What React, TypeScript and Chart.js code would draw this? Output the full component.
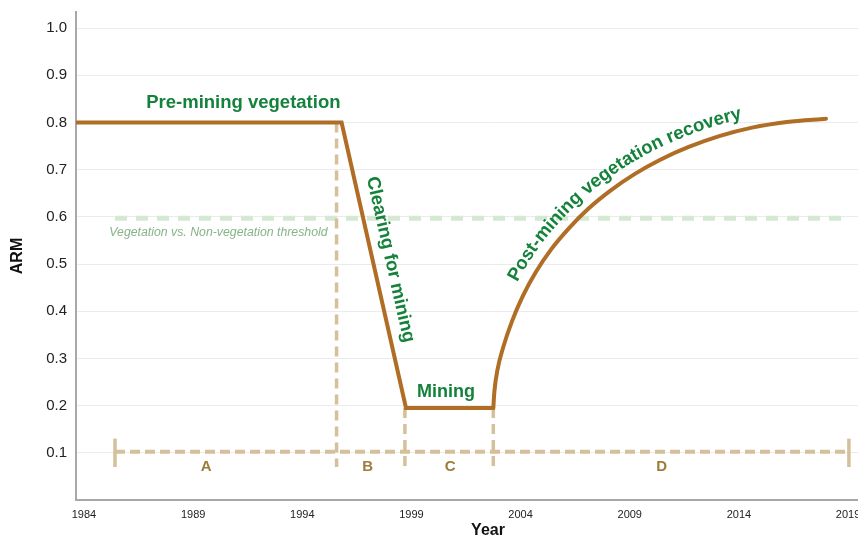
import { useEffect, useRef } from 'react';
import { Chart, registerables } from 'chart.js';

Chart.register(...registerables);

const FONT = '"Liberation Sans", Arial, Helvetica, sans-serif';

// ---- ticks ----
const yTickValues = [0.1, 0.2, 0.3, 0.4, 0.5, 0.6, 0.7, 0.8, 0.9, 1.0];
const xTickYears = [1984, 1989, 1994, 1999, 2004, 2009, 2014, 2019];

// ---- ARM trajectory: pre-mining, clearing, mining ----
const phaseYears = [1983.63, 1995.8, 1998.75, 2002.75];
const phaseArm = [0.8, 0.8, 0.195, 0.195];

// ---- post-mining recovery curve ----
const recoveryYears = [2002.75, 2002.8, 2002.95, 2003.2, 2003.6, 2004.1, 2004.7, 2005.4, 2006.2, 2007.1, 2008.1, 2009.2, 2010.4, 2011.7, 2013.1, 2014.6, 2016.2, 2017.99];
const recoveryArm = [0.195, 0.23, 0.278, 0.323, 0.378, 0.432, 0.483, 0.531, 0.575, 0.617, 0.655, 0.69, 0.721, 0.748, 0.771, 0.789, 0.801, 0.808];

// ---- threshold ----
const thresholdYears = [1985.42, 2018.85];
const thresholdArm = [0.597, 0.597];

// ---- period bar A-D ----
const periodBarYears = [1985.42, 2019.04];
const periodBarArm = [0.102, 0.102];
const periodEndTickArm = [0.07, 0.13];
const boundaryYears = [1995.57, 1998.7, 2002.75];
const boundaryTopArm = [0.8, 0.195, 0.195];
const boundaryBottomArm = 0.07;
const periodLabels = ['A', 'B', 'C', 'D'];
const periodLabelYears = [1989.6, 1997.0, 2000.77, 2010.46];
const periodLabelArm = 0.071;

const LINE = '#b06d25';
const TAN = '#d4c09a';
const GREEN = '#14823b';
const LETTER = '#9d7b3a';

function xy(xs: number[], ys: number[]) {
  return xs.map((x, i) => ({ x, y: ys[i] }));
}

function drawTextOnCurve(ctx: CanvasRenderingContext2D, meta: any, text: string, startX: number, offset: number) {
  const pts = meta.data as any[];
  const samples: number[][] = [];
  for (let i = 0; i < pts.length - 1; i++) {
    const a = pts[i], b = pts[i + 1];
    const c1x = a.cp2x ?? a.x, c1y = a.cp2y ?? a.y;
    const c2x = b.cp1x ?? b.x, c2y = b.cp1y ?? b.y;
    for (let k = 0; k < 24; k++) {
      const t = k / 24, u = 1 - t;
      samples.push([
        u * u * u * a.x + 3 * u * u * t * c1x + 3 * u * t * t * c2x + t * t * t * b.x,
        u * u * u * a.y + 3 * u * u * t * c1y + 3 * u * t * t * c2y + t * t * t * b.y,
      ]);
    }
  }
  const last = pts[pts.length - 1];
  samples.push([last.x, last.y]);
  const off = samples.map((p, i) => {
    const p0 = samples[Math.max(0, i - 2)], p1 = samples[Math.min(samples.length - 1, i + 2)];
    let tx = p1[0] - p0[0], ty = p1[1] - p0[1];
    const l = Math.hypot(tx, ty) || 1;
    tx /= l; ty /= l;
    return [p[0] + ty * offset, p[1] - tx * offset];
  });
  let startIdx = off.findIndex((p) => p[0] >= startX);
  if (startIdx < 0) startIdx = 0;
  const path = off.slice(startIdx);
  const cum = [0];
  for (let i = 1; i < path.length; i++) {
    cum.push(cum[i - 1] + Math.hypot(path[i][0] - path[i - 1][0], path[i][1] - path[i - 1][1]));
  }
  const at = (s: number) => {
    let i = 1;
    while (i < path.length - 1 && cum[i] < s) i++;
    const seg = cum[i] - cum[i - 1] || 1;
    const f = (s - cum[i - 1]) / seg;
    const x = path[i - 1][0] + f * (path[i][0] - path[i - 1][0]);
    const y = path[i - 1][1] + f * (path[i][1] - path[i - 1][1]);
    const j0 = Math.max(0, i - 3), j1 = Math.min(path.length - 1, i + 2);
    const ang = Math.atan2(path[j1][1] - path[j0][1], path[j1][0] - path[j0][0]);
    return { x, y, ang };
  };
  let s = 0;
  for (const ch of text) {
    const w = ctx.measureText(ch).width;
    const p = at(s + w / 2);
    ctx.save();
    ctx.translate(p.x, p.y);
    ctx.rotate(p.ang);
    ctx.fillText(ch, 0, 0);
    ctx.restore();
    s += w;
  }
}

const annotationPlugin = {
  id: 'armAnnotations',
  afterDatasetsDraw(chart: any) {
    const { ctx, scales } = chart;
    const x = scales.x, y = scales.y;
    ctx.save();

    // period letters
    ctx.fillStyle = LETTER;
    ctx.font = `bold 15px ${FONT}`;
    ctx.textAlign = 'center';
    ctx.textBaseline = 'middle';
    periodLabels.forEach((lab, i) => {
      ctx.fillText(lab, x.getPixelForValue(periodLabelYears[i]), y.getPixelForValue(periodLabelArm));
    });

    // threshold label
    ctx.fillStyle = '#86b487';
    ctx.font = `italic 12.3px ${FONT}`;
    ctx.textAlign = 'left';
    ctx.textBaseline = 'alphabetic';
    ctx.fillText('Vegetation vs. Non-vegetation threshold', x.getPixelForValue(1985.16), y.getPixelForValue(0.559));

    // phase labels
    ctx.fillStyle = GREEN;
    ctx.font = `bold 18.5px ${FONT}`;
    ctx.textAlign = 'center';
    ctx.fillText('Pre-mining vegetation', x.getPixelForValue(1991.3), y.getPixelForValue(0.8305));
    ctx.font = `bold 18px ${FONT}`;
    ctx.fillText('Mining', x.getPixelForValue(2000.58), y.getPixelForValue(0.219));

    // clearing label along the clearing segment
    const pm = chart.getDatasetMeta(0).data;
    const ang = Math.atan2(pm[2].y - pm[1].y, pm[2].x - pm[1].x);
    ctx.save();
    ctx.font = `bold 18.5px ${FONT}`;
    ctx.textBaseline = 'middle';
    ctx.translate(x.getPixelForValue(1998.03), y.getPixelForValue(0.5095));
    ctx.rotate(ang);
    ctx.fillText('Clearing for mining', 0, 0);
    ctx.restore();

    // recovery label along the curve
    ctx.font = `bold 18.5px ${FONT}`;
    ctx.textAlign = 'center';
    ctx.textBaseline = 'alphabetic';
    drawTextOnCurve(ctx, chart.getDatasetMeta(1), 'Post-mining vegetation recovery', x.getPixelForValue(2003.85), 11);

    ctx.restore();
  },
};

export default function App() {
  const ref = useRef<HTMLCanvasElement | null>(null);

  useEffect(() => {
    if (!ref.current) return;
    Chart.defaults.font.family = FONT;

    const datasets: any[] = [
      {
        label: 'ARM',
        data: xy(phaseYears, phaseArm),
        borderColor: LINE,
        borderWidth: 4,
        tension: 0,
        borderJoinStyle: 'miter',
        borderCapStyle: 'round',
        pointRadius: 0,
        order: 1,
      },
      {
        label: 'Recovery',
        data: xy(recoveryYears, recoveryArm),
        borderColor: LINE,
        borderWidth: 4,
        cubicInterpolationMode: 'monotone',
        borderCapStyle: 'round',
        pointRadius: 0,
        order: 1,
      },
      {
        label: 'Threshold',
        data: xy(thresholdYears, thresholdArm),
        borderColor: '#d5e8d4',
        borderWidth: 5,
        borderDash: [12, 9],
        pointRadius: 0,
        order: 3,
      },
      {
        label: 'Periods',
        data: xy(periodBarYears, periodBarArm),
        borderColor: TAN,
        borderWidth: 4,
        borderDash: [10, 5],
        pointRadius: 0,
        order: 2,
      },
    ];
    periodBarYears.forEach((yr) => {
      datasets.push({
        label: 'end',
        data: xy([yr, yr], periodEndTickArm),
        borderColor: TAN,
        borderWidth: 3.5,
        pointRadius: 0,
        order: 2,
      });
    });
    boundaryYears.forEach((yr, i) => {
      datasets.push({
        label: 'boundary',
        data: xy([yr, yr], [boundaryTopArm[i], boundaryBottomArm]),
        borderColor: TAN,
        borderWidth: 3.5,
        borderDash: [10, 6],
        pointRadius: 0,
        order: 2,
      });
    });

    const chart = new Chart(ref.current, {
      type: 'line',
      data: { datasets },
      options: {
        responsive: false,
        maintainAspectRatio: false,
        animation: false,
        devicePixelRatio: 1,
        layout: { padding: { top: 12, right: 0, bottom: 0, left: 0 } },
        plugins: { legend: { display: false }, tooltip: { enabled: false } },
        scales: {
          x: {
            type: 'linear',
            min: 1983.634,
            max: 2021.38,
            afterFit: (s: any) => { s.height = 60; s.paddingLeft = 0; s.paddingRight = 0; },
            afterBuildTicks: (s: any) => { s.ticks = xTickYears.map((v) => ({ value: v })); },
            ticks: {
              color: '#222',
              font: { size: 11 },
              padding: 8,
              maxRotation: 0,
              autoSkip: false,
              callback: (v: any) => String(v),
            },
            grid: { display: false, drawTicks: false },
            border: { display: true, color: '#a8a8a8', width: 2 },
            title: {
              display: true,
              text: 'Year',
              color: '#111',
              font: { size: 16, weight: 'bold' },
              padding: { top: 0, bottom: 20 },
            },
          },
          y: {
            type: 'linear',
            min: 0,
            max: 1.034,
            afterFit: (s: any) => { s.width = 76; s.paddingTop = 0; s.paddingBottom = 0; },
            afterBuildTicks: (s: any) => { s.ticks = yTickValues.map((v) => ({ value: v })); },
            ticks: {
              color: '#222',
              font: { size: 15 },
              padding: 9,
              autoSkip: false,
              callback: (v: any) => Number(v).toFixed(1),
            },
            grid: { color: '#ebebeb', lineWidth: 1, drawTicks: false },
            border: { display: true, color: '#a8a8a8', width: 2 },
            title: {
              display: true,
              text: 'ARM',
              color: '#111',
              font: { size: 16, weight: 'bold' },
              padding: { top: 8, bottom: 0 },
            },
          },
        },
      },
      plugins: [annotationPlugin],
    } as any);

    return () => chart.destroy();
  }, []);

  return (
    <div style={{ position: 'fixed', left: 0, top: 0, width: 858, height: 537, overflow: 'hidden', background: '#fff' }}>
      <canvas ref={ref} width={900} height={560} style={{ display: 'block', width: 900, height: 560 }} />
    </div>
  );
}
